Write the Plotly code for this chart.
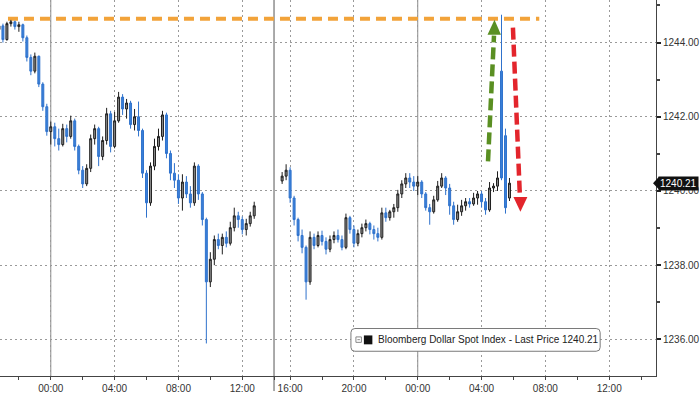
import plotly.graph_objects as go
import pandas as pd

# ---------------- data (15-minute bars) ----------------
times1 = pd.date_range("2024-02-14 20:45", periods=65, freq="15min")
times2 = pd.date_range("2024-02-15 15:30", periods=58, freq="15min")

open1 = [1244.35, 1244.45, 1244.08, 1244.51, 1244.56, 1244.43, 1244.48, 1244.13, 1243.60, 1243.23,
         1243.63, 1242.88, 1242.27, 1241.60, 1241.73, 1241.41, 1241.25, 1241.68, 1241.47, 1241.89,
         1241.20, 1240.56, 1240.19, 1240.61, 1241.41, 1241.68, 1240.93, 1241.36, 1242.08, 1241.20,
         1241.89, 1242.53, 1242.21, 1242.37, 1241.79, 1242.00, 1241.63, 1240.48, 1239.68, 1240.67,
         1241.20, 1241.47, 1242.05, 1241.01, 1240.48, 1240.29, 1239.81, 1240.24, 1239.92, 1239.68,
         1240.67, 1239.92, 1239.23, 1237.55, 1238.16, 1238.69, 1238.53, 1238.75, 1238.59, 1239.01,
         1239.33, 1239.23, 1238.96, 1239.12, 1239.33]
high1 = [1244.56, 1244.51, 1244.56, 1244.61, 1244.59, 1244.56, 1244.51, 1244.19, 1243.68, 1243.73,
         1243.65, 1242.93, 1242.35, 1241.87, 1241.84, 1241.68, 1241.81, 1241.79, 1242.03, 1241.95,
         1241.25, 1240.67, 1240.72, 1241.52, 1241.79, 1241.73, 1241.47, 1242.24, 1242.16, 1242.13,
         1242.67, 1242.61, 1242.48, 1242.43, 1242.21, 1242.41, 1241.68, 1240.56, 1240.77, 1241.41,
         1241.68, 1242.16, 1242.11, 1241.09, 1240.75, 1240.45, 1240.45, 1240.40, 1240.13, 1240.77,
         1240.72, 1239.97, 1239.28, 1238.35, 1238.80, 1238.85, 1238.85, 1238.91, 1239.17, 1239.55,
         1239.44, 1239.31, 1239.25, 1239.44, 1239.71]
low1 = [1244.27, 1244.00, 1244.05, 1244.43, 1244.35, 1244.29, 1244.03, 1243.49, 1243.12, 1243.17,
        1242.80, 1242.16, 1241.49, 1241.25, 1241.20, 1241.09, 1241.20, 1241.31, 1241.41, 1241.09,
        1240.45, 1240.08, 1240.13, 1240.51, 1241.25, 1240.67, 1240.83, 1241.25, 1241.04, 1241.15,
        1241.84, 1242.05, 1241.95, 1241.68, 1241.63, 1241.47, 1240.35, 1239.28, 1239.60, 1240.56,
        1241.09, 1241.36, 1240.88, 1240.29, 1240.08, 1239.65, 1239.47, 1239.81, 1239.55, 1239.60,
        1239.76, 1239.07, 1235.89, 1237.41, 1238.00, 1238.43, 1238.29, 1238.48, 1238.53, 1238.91,
        1239.01, 1238.83, 1238.80, 1239.04, 1239.25]
close1 = [1244.45, 1244.08, 1244.51, 1244.56, 1244.43, 1244.48, 1244.13, 1243.60, 1243.23, 1243.63,
          1242.88, 1242.27, 1241.60, 1241.73, 1241.41, 1241.25, 1241.68, 1241.47, 1241.89, 1241.20,
          1240.56, 1240.19, 1240.61, 1241.41, 1241.68, 1240.93, 1241.36, 1242.08, 1241.20, 1241.89,
          1242.53, 1242.21, 1242.37, 1241.79, 1242.00, 1241.63, 1240.48, 1239.68, 1240.67, 1241.20,
          1241.47, 1242.05, 1241.01, 1240.48, 1240.29, 1239.81, 1240.24, 1239.92, 1239.68, 1240.67,
          1239.92, 1239.23, 1237.55, 1238.16, 1238.69, 1238.53, 1238.75, 1238.59, 1239.01, 1239.33,
          1239.23, 1238.96, 1239.12, 1239.33, 1239.60]

open2 = [1240.27, 1240.40, 1240.56, 1239.81, 1239.23, 1238.80, 1238.48, 1237.55, 1238.75, 1238.53,
         1238.80, 1238.64, 1238.43, 1238.69, 1238.80, 1238.69, 1238.48, 1239.28, 1238.96, 1238.59,
         1238.85, 1239.01, 1239.12, 1238.96, 1238.85, 1238.75, 1239.41, 1239.28, 1239.44, 1239.55,
         1239.92, 1240.19, 1240.35, 1240.24, 1240.13, 1240.24, 1239.92, 1239.55, 1239.44, 1239.76,
         1240.13, 1240.35, 1240.08, 1239.60, 1239.23, 1239.44, 1239.60, 1239.71, 1239.65, 1239.81,
         1239.92, 1239.71, 1239.49, 1240.08, 1240.13, 1243.23, 1241.49, 1239.81]
high2 = [1240.51, 1240.72, 1240.64, 1239.87, 1239.28, 1238.96, 1238.53, 1238.91, 1238.85, 1238.91,
         1238.93, 1238.75, 1238.80, 1238.91, 1238.96, 1238.80, 1239.39, 1239.33, 1239.07, 1238.96,
         1239.12, 1239.23, 1239.17, 1239.07, 1239.01, 1239.55, 1239.55, 1239.49, 1239.65, 1240.03,
         1240.29, 1240.48, 1240.48, 1240.40, 1240.40, 1240.29, 1239.97, 1239.65, 1239.87, 1240.27,
         1240.48, 1240.40, 1240.19, 1239.71, 1239.63, 1239.76, 1239.81, 1239.81, 1239.95, 1240.00,
         1240.00, 1239.81, 1240.24, 1240.21, 1240.53, 1244.75, 1241.68, 1240.35]
low2 = [1240.19, 1240.29, 1239.68, 1239.07, 1238.64, 1238.32, 1237.07, 1237.47, 1238.43, 1238.48,
        1238.53, 1238.29, 1238.35, 1238.59, 1238.61, 1238.40, 1238.43, 1238.85, 1238.48, 1238.51,
        1238.75, 1238.91, 1238.83, 1238.69, 1238.64, 1238.69, 1239.17, 1239.20, 1239.28, 1239.44,
        1239.81, 1240.08, 1240.08, 1240.00, 1239.89, 1239.81, 1239.47, 1239.09, 1239.39, 1239.71,
        1240.08, 1239.89, 1239.36, 1239.09, 1239.17, 1239.33, 1239.47, 1239.55, 1239.60, 1239.63,
        1239.55, 1239.36, 1239.44, 1239.97, 1240.00, 1240.29, 1239.39, 1239.73]
close2 = [1240.40, 1240.56, 1239.81, 1239.23, 1238.80, 1238.48, 1237.55, 1238.75, 1238.53, 1238.80,
          1238.64, 1238.43, 1238.69, 1238.80, 1238.69, 1238.48, 1239.28, 1238.96, 1238.59, 1238.85,
          1239.01, 1239.12, 1238.96, 1238.85, 1238.75, 1239.41, 1239.28, 1239.44, 1239.55, 1239.92,
          1240.19, 1240.35, 1240.24, 1240.13, 1240.24, 1239.92, 1239.55, 1239.44, 1239.76, 1240.13,
          1240.35, 1240.08, 1239.60, 1239.23, 1239.44, 1239.60, 1239.71, 1239.65, 1239.81, 1239.92,
          1239.71, 1239.49, 1240.08, 1240.13, 1240.35, 1240.35, 1239.55, 1240.21]

last_price = 1240.21
resistance = 1244.64
series_name = "Bloomberg Dollar Spot Index - Last Price"

x_start, x_end = "2024-02-14 20:49", "2024-02-16 14:56"
break_start = "2024-02-15 14:00"
midnights = ["2024-02-15 00:00", "2024-02-16 00:00"]
res_from, res_to = "2024-02-14 21:19", "2024-02-16 07:37"

# ---------------- figure ----------------
inc = dict(fillcolor="#8e8e8e", line=dict(color="#1e1e1e", width=1))
dec = dict(fillcolor="#3a80d9", line=dict(color="#2f72cc", width=1))
fig = go.Figure()
fig.add_trace(go.Candlestick(
    x=list(times1), open=open1, high=high1, low=low1, close=close1,
    increasing=inc, decreasing=dec, hoverinfo="skip", showlegend=False))
fig.add_trace(go.Candlestick(
    x=list(times2), open=open2, high=high2, low=low2, close=close2,
    increasing=inc, decreasing=dec, hoverinfo="skip", showlegend=False))

W, H = 658.0, 380.0
def px(x):
    return x / W
def py(y):
    return 1 - y / H

shapes = []
for m in midnights:
    shapes.append(dict(type="line", xref="x", yref="paper", x0=m, x1=m, y0=0, y1=1,
                       line=dict(color="#8c8c8c", width=1), layer="below"))
shapes.append(dict(type="line", xref="x", yref="paper", x0="2024-02-15 13:59:30",
                   x1="2024-02-15 13:59:30", y0=-0.04, y1=1,
                   line=dict(color="#555555", width=1), layer="below"))
shapes.append(dict(type="line", xref="x", yref="y", x0=res_from, x1=res_to,
                   y0=resistance, y1=resistance, layer="below",
                   line=dict(color="#f2a33a", width=4, dash="10px,6px")))
green = "#5a8f22"
shapes.append(dict(type="line", xref="paper", yref="paper", x0=px(489.5), y0=py(163),
                   x1=px(495.5), y1=py(36), line=dict(color=green, width=4.5, dash="12px,5px")))
shapes.append(dict(type="path", xref="paper", yref="paper",
                   path=f"M {px(489)} {py(35)} L {px(502.5)} {py(35)} L {px(496)} {py(20)} Z",
                   fillcolor=green, line=dict(width=0)))
red = "#e3252c"
shapes.append(dict(type="line", xref="paper", yref="paper", x0=px(514.5), y0=py(28),
                   x1=px(521.5), y1=py(199), line=dict(color=red, width=4.5, dash="12px,5px")))
shapes.append(dict(type="path", xref="paper", yref="paper",
                   path=f"M {px(515)} {py(199)} L {px(529)} {py(199)} L {px(522)} {py(214)} Z",
                   fillcolor=red, line=dict(width=0)))
bx0, bx1, by0, by1, r = 352, 602, 332, 355, 4
box = (f"M {px(bx0+r)} {py(by0)} L {px(bx1-r)} {py(by0)} Q {px(bx1)} {py(by0)} {px(bx1)} {py(by0+r)} "
       f"L {px(bx1)} {py(by1-r)} Q {px(bx1)} {py(by1)} {px(bx1-r)} {py(by1)} "
       f"L {px(bx0+r)} {py(by1)} Q {px(bx0)} {py(by1)} {px(bx0)} {py(by1-r)} "
       f"L {px(bx0)} {py(by0+r)} Q {px(bx0)} {py(by0)} {px(bx0+r)} {py(by0)} Z")
shapes.append(dict(type="path", xref="paper", yref="paper", path=box,
                   fillcolor="white", line=dict(color="#7a7a7a", width=1)))
shapes.append(dict(type="rect", xref="paper", yref="paper", x0=px(357), x1=px(362.5),
                   y0=py(346), y1=py(340.5), fillcolor="white", line=dict(color="#888888", width=1)))
shapes.append(dict(type="line", xref="paper", yref="paper", x0=px(358.5), x1=px(361),
                   y0=py(343.3), y1=py(343.3), line=dict(color="#888888", width=1)))
shapes.append(dict(type="rect", xref="paper", yref="paper", x0=px(365), x1=px(373.5),
                   y0=py(348), y1=py(339), fillcolor="#111111", line=dict(width=0)))
shapes.append(dict(type="path", xref="paper", yref="y",
                   path=f"M {px(655)} {last_price} L {px(661)} {last_price + 0.17} L {px(661)} {last_price - 0.17} Z",
                   fillcolor="#111111", line=dict(width=0)))

annotations = [
    dict(xref="paper", yref="paper", x=px(377), y=py(343.5), xanchor="left", yanchor="middle",
         text=series_name + " " + f"{last_price:.2f}", showarrow=False,
         font=dict(family="Liberation Sans, Arial", size=10, color="#222222")),
    dict(xref="paper", yref="y", x=px(660), y=last_price, xanchor="left", yanchor="middle",
         text=f"{last_price:.2f}", showarrow=False, bgcolor="#111111", borderpad=1,
         font=dict(family="Liberation Sans, Arial", size=10, color="white")),
]

fig.update_layout(
    width=700, height=394,
    margin=dict(l=0, r=42, t=0, b=14),
    paper_bgcolor="white", plot_bgcolor="white",
    showlegend=False, hovermode=False,
    font=dict(family="Liberation Sans, Arial", size=10, color="#333333"),
    shapes=shapes, annotations=annotations,
    xaxis=dict(
        type="date", range=[x_start, x_end],
        rangebreaks=[dict(values=[break_start], dvalue=3600000)],
        rangeslider=dict(visible=False),
        tick0="2024-02-15 00:00", dtick=4 * 3600000, tickformat="%H:%M",
        ticks="outside", ticklen=3, tickcolor="#444444",
        showline=True, linecolor="#444444", linewidth=1,
        showgrid=True, gridcolor="#9a9a9a", griddash="2px,3px", gridwidth=1,
        minor=dict(tick0="2024-02-15 00:00", dtick=2 * 3600000, ticks="outside",
                   ticklen=3, tickcolor="#444444", showgrid=False),
        tickfont=dict(size=10, color="#333333"), fixedrange=True, zeroline=False,
    ),
    yaxis=dict(
        side="right", range=[1235.013, 1245.147],
        tick0=1236, dtick=2, tickformat=".2f",
        ticks="outside", ticklen=4, tickwidth=1.5, tickcolor="#222222",
        showline=True, linecolor="#444444", linewidth=1,
        showgrid=True, gridcolor="#9a9a9a", griddash="2px,3px", gridwidth=1,
        minor=dict(dtick=1, tick0=1235, ticks="outside", ticklen=3, tickcolor="#444444",
                   showgrid=False),
        tickfont=dict(size=10, color="#333333"), fixedrange=True, zeroline=False,
    ),
)

fig.write_html("out.html", config={"displayModeBar": False})
